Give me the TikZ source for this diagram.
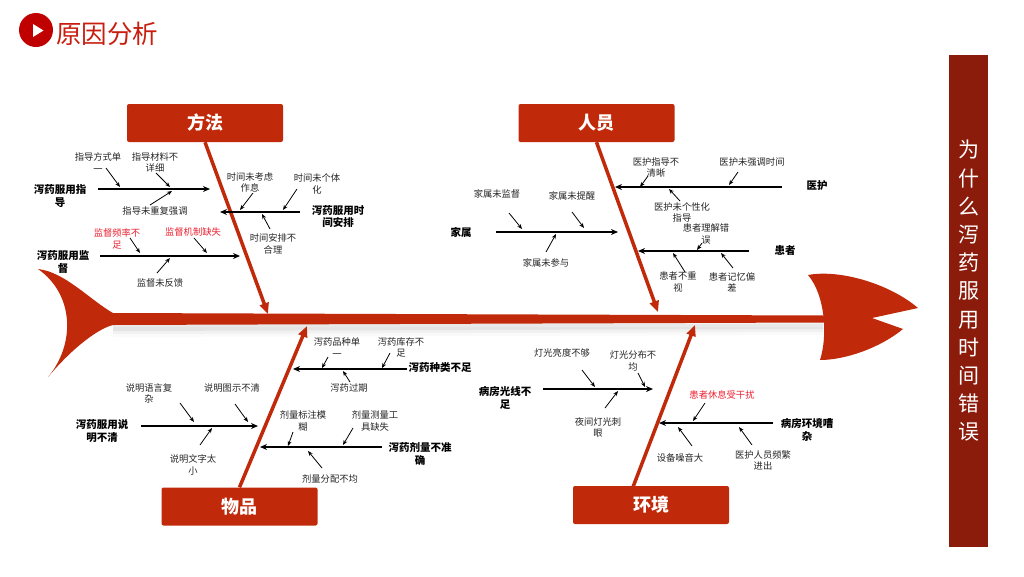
\documentclass[tikz,border=0pt]{standalone}
\usepackage{fontspec}
\setmainfont{Noto Sans CJK SC}
\usetikzlibrary{arrows.meta}
\definecolor{fishred}{HTML}{C0290A}
\definecolor{boxred}{HTML}{C02A0B}
\definecolor{barred}{HTML}{8B1C0C}
\definecolor{titlered}{HTML}{C81E0F}
\definecolor{circred}{HTML}{C00000}
\definecolor{alertred}{HTML}{EC2030}
\tikzset{
  causetxt/.style={font=\fontsize{9.3}{11.5}\selectfont, align=center, inner sep=0pt, text=black!85},
  causered/.style={causetxt, text=alertred},
  grouptxt/.style={font=\fontsize{10.5}{12.5}\selectfont\bfseries, align=center, inner sep=0pt},
  causearrow/.style={draw=black, line width=0.8pt, -{Stealth[length=5pt,width=4pt]}},
  branchline/.style={draw=black, line width=1.2pt, -{Stealth[length=7pt,width=6pt]}},
  bone/.style={draw=fishred, line width=3.5pt, -{Triangle[length=11pt,width=9pt]}},
  catbox/.style={fill=boxred, rounded corners=2pt, minimum width=156pt, minimum height=38pt,
    text=white, font=\fontsize{18}{20}\selectfont\bfseries, inner sep=0pt},
}
\newcommand\mycause[6]{%
  \node[#3] (#1) at (#2) {#4};
  \coordinate (#1s) at (#5);
  \coordinate (#1e) at (#6);
  \draw[causearrow] (#1s) -- (#1e);}
\newcommand\mybranch[5]{%
  \node[grouptxt] (#1) at (#2) {#3};
  \coordinate (#1s) at (#4);
  \coordinate (#1e) at (#5);
  \draw[branchline] (#1s) -- (#1e);}
\begin{document}
\begin{tikzpicture}[x=1pt,y=-1pt]
\useasboundingbox (0,0) rectangle (1024,576);
\fill[white] (0,0) rectangle (1024,576);

% title
\node[circle, fill=circred, minimum size=34pt, inner sep=0pt] (ticon) at (36,30) {};
\fill[white] (33,24) -- (33,37) -- (43.5,30.5) -- cycle;
\node[anchor=west, inner sep=0pt, text=titlered, font=\fontsize{25.5}{27}\selectfont] (title) at (56,34) {原因分析};

% right bar
\node[fill=barred, minimum width=39pt, minimum height=492pt, inner sep=0pt] (bar) at (968.5,301) {};
\node[text=white, align=center, inner sep=0pt, font=\fontsize{21}{28.2}\selectfont] (bartxt) at (968.5,291)
  {为\\什\\么\\泻\\药\\服\\用\\时\\间\\错\\误};

% fish shadow (soft)
\foreach \d/\o in {3/0.05,6/0.035,9/0.02}{
  \fill[black, opacity=\o] (113,{318+\d}) -- (823,{318+\d}) -- (823,{326+\d}) -- (113,{328+\d}) -- cycle;
}

% fish body
\fill[fishred] (38,269) .. controls (65,272) and (90,300) .. (113,313)
  -- (825,315.5) -- (825,322.5) -- (113,325)
  .. controls (100,328) and (75,345) .. (48,377)
  .. controls (75,345) and (75,295) .. (38,269) -- cycle;
\fill[fishred] (808,275) .. controls (840,269) and (890,284) .. (918,308)
  -- (872,318) -- (903,329)
  .. controls (880,348) and (845,360) .. (820,360)
  .. controls (828,335) and (825,295) .. (808,275) -- cycle;

% category boxes
\node[catbox] (fangfa) at (205,123) {方法};
\node[catbox] (renyuan) at (596.5,123) {人员};
\node[catbox] (wupin) at (239.5,506.5) {物品};
\node[catbox] (huanjing) at (651,505) {环境};

% bones
\coordinate (fangfaEnd) at (268,314);
\coordinate (renyuanEnd) at (658,312);
\coordinate (wupinEnd) at (307,326);
\coordinate (huanjingStart) at (633,487);
\coordinate (huanjingEnd) at (695,325);
\draw[bone] (fangfa.south) -- (fangfaEnd);
\draw[bone] (renyuan.south) -- (renyuanEnd);
\draw[bone] (wupin.north) -- (wupinEnd);
\draw[bone] (huanjingStart) -- (huanjingEnd);

% ===== 方法 =====
\mybranch{gA}{60,196}{泻药服用指\\导}{98,189}{210,189}
\mycause{a1}{98,162.5}{causetxt}{指导方式单\\一}{106,168}{120,187}
\mycause{a2}{155,162.5}{causetxt}{指导材料不\\详细}{156,173}{170,187}
\mycause{a3}{155,211}{causetxt}{指导未重复强调}{150,205}{172,191}

\mybranch{gB}{63,262}{泻药服用监\\督}{100,256}{240,256}
\mycause{b1}{117,239}{causered}{监督频率不\\足}{130,238}{140,253}
\mycause{b2}{193,232}{causered}{监督机制缺失}{194,238}{207,253}
\mycause{b3}{160,283}{causetxt}{监督未反馈}{157,273}{170,258}

\mybranch{gC}{338,216.5}{泻药服用时\\间安排}{300,212}{220,212}
\mycause{c1}{250,182.5}{causetxt}{时间未考虑\\作息}{253,193}{240,210}
\mycause{c2}{317,184}{causetxt}{时间未个体\\化}{297,189}{283,210}
\mycause{c3}{273,244}{causetxt}{时间安排不\\合理}{270,229}{262,214}

% ===== 人员 =====
\mybranch{gD}{817,186}{医护}{782,187}{615,187}
\mycause{d1}{656,167.5}{causetxt}{医护指导不\\清晰}{648,176}{640,187}
\mycause{d2}{752,162}{causetxt}{医护未强调时间}{738,172}{729,185}
\mycause{d3}{682,212.5}{causetxt}{医护未个性化\\指导}{680,201}{669,189}

\mybranch{gE}{461,232}{家属}{496,232}{618,232}
\mycause{e1}{497,194}{causetxt}{家属未监督}{509,213}{522,229}
\mycause{e2}{572,196}{causetxt}{家属未提醒}{572,212}{584,228}
\mycause{e3}{546,263}{causetxt}{家属未参与}{546,252}{556,234}

\mybranch{gF}{785,251}{患者}{749,251}{638,251}
\mycause{f1}{706,234}{causetxt}{患者理解错\\误}{702,243}{697,250}
\mycause{f2}{678,282}{causetxt}{患者不重\\视}{685,272}{673,253}
\mycause{f3}{732,282}{causetxt}{患者记忆偏\\差}{733,268}{721,253}

% ===== 物品 =====
\mybranch{gG}{440,368}{泻药种类不足}{407,369}{293,369}
\mycause{g1}{337,347.5}{causetxt}{泻药品种单\\一}{328,357}{322,368}
\mycause{g2}{401,347.5}{causetxt}{泻药库存不\\足}{390,353}{382,368}
\mycause{g3}{349,388}{causetxt}{泻药过期}{350,382}{343,371}

\mybranch{gH}{102,431}{泻药服用说\\明不清}{141,426}{258,426}
\mycause{h1}{149,393.5}{causetxt}{说明语言复\\杂}{180,403}{194,422}
\mycause{h2}{232,388}{causetxt}{说明图示不清}{235,404}{248,422}
\mycause{h3}{193,465}{causetxt}{说明文字太\\小}{200,445}{212,428}

\mybranch{gI}{420,454}{泻药剂量不准\\确}{382,447}{260,447}
\mycause{i1}{303,421}{causetxt}{剂量标注模\\糊}{293,432}{288,446}
\mycause{i2}{375,421}{causetxt}{剂量测量工\\具缺失}{353,428}{343,445}
\mycause{i3}{330,479}{causetxt}{剂量分配不均}{322,468}{308,451}

% ===== 环境 =====
\mybranch{gJ}{505,398}{病房光线不\\足}{543,389}{653,389}
\mycause{j1}{562,353}{causetxt}{灯光亮度不够}{582,370}{595,387}
\mycause{j2}{633,361}{causetxt}{灯光分布不\\均}{638,373}{645,387}
\mycause{j3}{598,427.5}{causetxt}{夜间灯光刺\\眼}{605,408}{618,391}

\mybranch{gK}{807,430}{病房环境嘈\\杂}{773,423}{659,423}
\mycause{k1}{722,395}{causered}{患者休息受干扰}{705,403}{693,421}
\mycause{k2}{680,458}{causetxt}{设备噪音大}{692,446}{678,427}
\mycause{k3}{763,460.5}{causetxt}{医护人员频繁\\进出}{752,445}{739,427}
\end{tikzpicture}
\end{document}
